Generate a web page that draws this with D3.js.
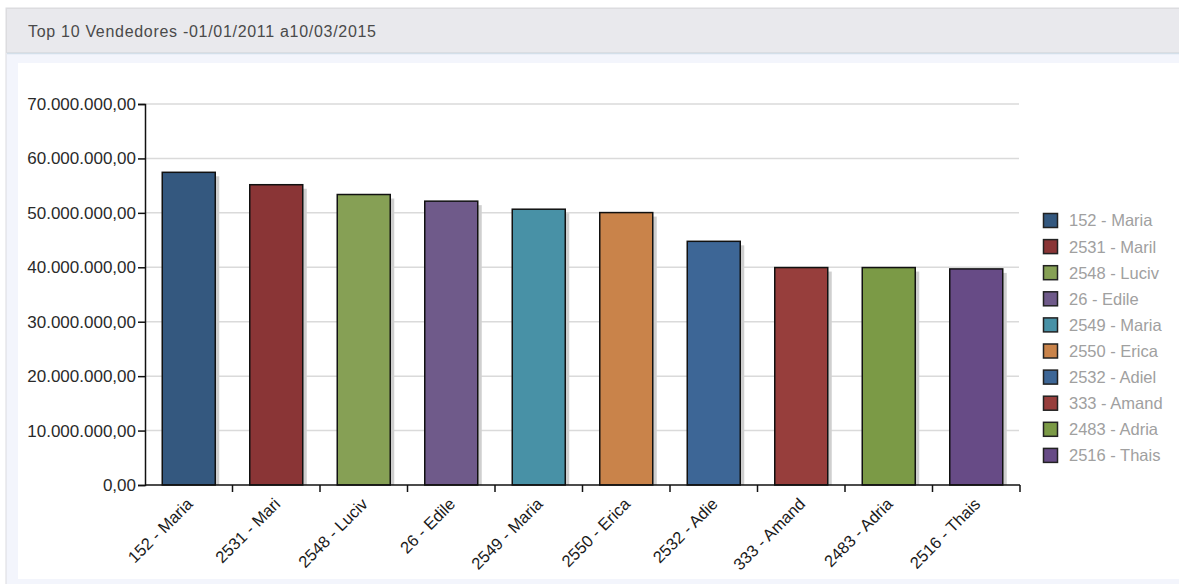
<!DOCTYPE html>
<html>
<head>
<meta charset="utf-8">
<script src="https://cdn.jsdelivr.net/npm/d3@7"></script>
<style>
  html, body { margin: 0; padding: 0; background: #ffffff; }
  svg { display: block; }
  text { font-family: "Liberation Sans", Arial, sans-serif; }
</style>
</head>
<body>
<svg id="chart" width="1179" height="584"></svg>
<script>
const title = "Top 10 Vendedores -01/01/2011 a10/03/2015";
const categories = ["152 - Maria", "2531 - Mari", "2548 - Luciv", "26 - Edile", "2549 - Maria",
                    "2550 - Erica", "2532 - Adie", "333 - Amand", "2483 - Adria", "2516 - Thais"];
const legendLabels = ["152 - Maria", "2531 - Maril", "2548 - Luciv", "26 - Edile", "2549 - Maria",
                      "2550 - Erica", "2532 - Adiel", "333 - Amand", "2483 - Adria", "2516 - Thais"];
const values = [57450000, 55170000, 53370000, 52150000, 50670000,
                50050000, 44770000, 39950000, 39950000, 39700000];
const colors = ["#34587f", "#8a3536", "#86a055", "#6f5a8a", "#4891a6",
                "#c9834a", "#3d6696", "#973e3c", "#7b9a46", "#674b86"];
const yTicks = [0, 10000000, 20000000, 30000000, 40000000, 50000000, 60000000, 70000000];

const svg = d3.select("#chart");

// panel frame
svg.append("rect").attr("x", 6).attr("y", 8).attr("width", 1180).attr("height", 580)
  .attr("fill", "#f3f5fc").attr("stroke", "#dcdcdf");
svg.append("rect").attr("x", 6.5).attr("y", 8.5).attr("width", 1180).attr("height", 44)
  .attr("fill", "#e9e9ed").attr("stroke", "#dcdcdf");
svg.append("line").attr("x1", 7).attr("x2", 1179).attr("y1", 53.5).attr("y2", 53.5)
  .attr("stroke", "#d3dfe9").attr("stroke-width", 1.5);
svg.append("rect").attr("x", 18).attr("y", 63).attr("width", 1161).attr("height", 516)
  .attr("fill", "#ffffff");
svg.append("text").attr("x", 28).attr("y", 37).attr("font-size", 16)
  .attr("letter-spacing", 0.7).attr("fill", "#4a4a4a").text(title);

const mLeft = 145, mRight = 1020, mTop = 104, mBottom = 485;
const x = d3.scaleBand().domain(categories).range([mLeft, mRight]).paddingInner(0).paddingOuter(0);
const y = d3.scaleLinear().domain([0, 70000000]).range([mBottom, mTop]);
const br = d3.formatLocale({decimal: ",", thousands: ".", grouping: [3], currency: ["R$", ""]});
const fmt = br.format(",.2f");

// gridlines
svg.append("g").selectAll("line").data(yTicks.slice(1)).join("line")
  .attr("x1", mLeft).attr("x2", mRight - 1)
  .attr("y1", d => y(d)).attr("y2", d => y(d))
  .attr("stroke", "#dadada").attr("stroke-width", 1.5);

const bw = 53;
// shadows
svg.append("g").selectAll("rect").data(values).join("rect")
  .attr("x", (d, i) => x(categories[i]) + x.bandwidth() / 2 - bw / 2 + 4)
  .attr("y", d => y(d) + 4)
  .attr("width", bw).attr("height", d => mBottom - y(d) - 4)
  .attr("fill", "#cfcfcf");
// bars
svg.append("g").selectAll("rect").data(values).join("rect")
  .attr("x", (d, i) => x(categories[i]) + x.bandwidth() / 2 - bw / 2)
  .attr("y", d => y(d))
  .attr("width", bw).attr("height", d => mBottom - y(d))
  .attr("fill", (d, i) => colors[i])
  .attr("stroke", "#111").attr("stroke-width", 1.5);

// y axis
const yAxis = d3.axisLeft(y).tickValues(yTicks).tickFormat(fmt).tickSize(7).tickPadding(2);
const gy = svg.append("g").attr("transform", `translate(${mLeft},0)`).call(yAxis);
gy.select(".domain").attr("stroke", "#111").attr("stroke-width", 1.5);
gy.selectAll(".tick line").attr("stroke", "#111").attr("stroke-width", 1.5);
gy.selectAll(".tick text").attr("font-size", 17).attr("fill", "#2a2a2a")
  .attr("font-family", "Liberation Sans, Arial, sans-serif");

// x axis with boundary ticks
const gx = svg.append("g");
gx.append("line").attr("x1", mLeft).attr("x2", mRight).attr("y1", mBottom).attr("y2", mBottom)
  .attr("stroke", "#111").attr("stroke-width", 1.5);
const bounds = categories.map(c => x(c)).concat([mRight]);
gx.selectAll("line.tk").data(bounds.slice(1)).join("line").attr("class", "tk")
  .attr("x1", d => d).attr("x2", d => d).attr("y1", mBottom).attr("y2", mBottom + 7)
  .attr("stroke", "#111").attr("stroke-width", 1.5);
gx.selectAll("text").data(categories).join("text")
  .attr("transform", d => `translate(${x(d) + x.bandwidth() / 2 + 1},${mBottom + 16}) rotate(-45)`)
  .attr("text-anchor", "end").attr("dy", "0.35em")
  .attr("font-size", 16.5).attr("fill", "#1a1a1a")
  .text(d => d);

// legend
const lg = svg.append("g").selectAll("g").data(legendLabels).join("g")
  .attr("transform", (d, i) => `translate(1043,${220.5 + i * 26.1})`);
lg.append("rect").attr("x", 0.5).attr("y", -7).attr("width", 14).attr("height", 14)
  .attr("fill", (d, i) => colors[i]).attr("stroke", "#222").attr("stroke-width", 1.5);
lg.append("text").attr("x", 26).attr("y", 0).attr("dy", "0.36em")
  .attr("font-size", 16.5).attr("fill", "#a0a0a0").text(d => d);
</script>
</body>
</html>
